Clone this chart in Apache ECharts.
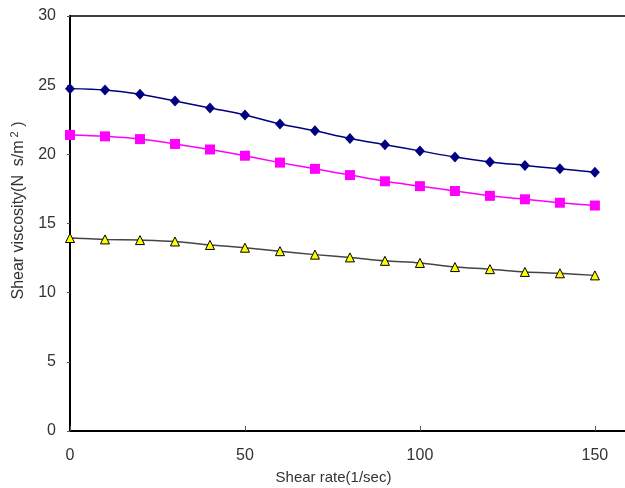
<!DOCTYPE html>
<html>
<head>
<meta charset="utf-8">
<script src="https://cdn.jsdelivr.net/npm/echarts@6/dist/echarts.min.js"></script>
<style>
  html, body { margin: 0; padding: 0; background: #fff; }
  #chart { width: 625px; height: 488px; }
</style>
</head>
<body>
<div id="chart"></div>
<script>
// 剪切速率 (1/sec)
const shearRate = [0, 10, 20, 30, 40, 50, 60, 70, 80, 90, 100, 110, 120, 130, 140, 150];
// 剪切粘度 - 三组样品
const seriesBlue = [24.75, 24.65, 24.35, 23.85, 23.35, 22.85, 22.2, 21.7, 21.15, 20.7, 20.25, 19.8, 19.45, 19.2, 18.95, 18.7];
const seriesMagenta = [21.4, 21.3, 21.1, 20.75, 20.35, 19.9, 19.4, 18.95, 18.5, 18.05, 17.7, 17.35, 17.0, 16.75, 16.5, 16.3];
const seriesYellow = [13.95, 13.85, 13.8, 13.7, 13.45, 13.25, 13.0, 12.75, 12.55, 12.3, 12.15, 11.85, 11.7, 11.5, 11.4, 11.25];

const chart = echarts.init(document.getElementById('chart'));

function pairs(ys) {
    return shearRate.map((x, i) => [x, ys[i]]);
}

const fontFamily = 'Liberation Sans, Arial, sans-serif';
// 画布右边缘处的 x 值（轴在画布外继续延伸）
const xMax = 158.6;

const option = {
    animation: false,
    grid: {
        left: 70,
        right: 0,
        top: 16,
        bottom: 57,
        outerBoundsMode: 'none'
    },
    xAxis: [
        {
            type: 'value',
            min: 0,
            max: xMax,
            interval: 50,
            name: 'Shear rate(1/sec)',
            nameLocation: 'middle',
            nameGap: 39,
            nameTextStyle: { fontSize: 15, color: '#333', fontFamily: fontFamily, padding: [0, 28, 0, 0] },
            splitLine: { show: false },
            axisLine: { lineStyle: { color: '#000', width: 2 } },
            axisTick: { inside: true, length: 5, lineStyle: { color: '#555' } },
            axisLabel: { margin: 17, fontSize: 16, color: '#333', fontFamily: fontFamily, showMaxLabel: false }
        },
        {
            // 顶部边框线
            type: 'value',
            position: 'top',
            min: 0,
            max: xMax,
            axisLine: { lineStyle: { color: '#000', width: 1.5 } },
            axisTick: { show: false },
            axisLabel: { show: false },
            splitLine: { show: false }
        }
    ],
    yAxis: {
        type: 'value',
        min: 0,
        max: 30,
        interval: 5,
        name: '{n|Shear viscosity(N  s/m}{s|2}{n| )}',
        nameLocation: 'middle',
        nameGap: 42,
        nameRotate: 90,
        nameTextStyle: {
            padding: [0, 0, 0, 26],
            rich: {
                n: { fontSize: 16, color: '#333', fontFamily: fontFamily },
                s: { fontSize: 11, color: '#333', fontFamily: fontFamily, verticalAlign: 'top', padding: [0, 0, 8, 3] }
            }
        },
        splitLine: { show: false },
        axisLine: { lineStyle: { color: '#000', width: 2 } },
        axisTick: { length: 3, lineStyle: { color: '#555' } },
        axisLabel: { margin: 14, fontSize: 16, color: '#333', fontFamily: fontFamily }
    },
    series: [
        {
            name: 'A',
            type: 'line',
            data: pairs(seriesBlue),
            smooth: 0.3,
            symbol: 'diamond',
            symbolSize: [10, 11],
            itemStyle: { color: '#000080' },
            lineStyle: { color: '#000080', width: 1.5 }
        },
        {
            name: 'B',
            type: 'line',
            data: pairs(seriesMagenta),
            smooth: 0.3,
            symbol: 'rect',
            symbolSize: 10,
            itemStyle: { color: '#ff00ff' },
            lineStyle: { color: '#ff00ff', width: 1.5 }
        },
        {
            name: 'C',
            type: 'line',
            data: pairs(seriesYellow),
            smooth: 0.3,
            symbol: 'triangle',
            symbolSize: 9,
            itemStyle: { color: '#ffff00', borderColor: '#000', borderWidth: 1 },
            lineStyle: { color: '#444', width: 1.5 }
        }
    ]
};

chart.setOption(option);
</script>
</body>
</html>
